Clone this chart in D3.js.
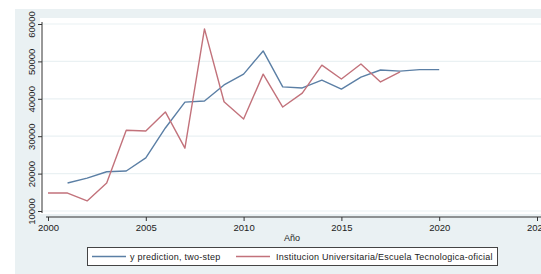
<!DOCTYPE html>
<html>
<head>
<meta charset="utf-8">
<script src="https://cdn.jsdelivr.net/npm/d3@7"></script>
<style>
  body { margin: 0; background: #fff; }
  text { font-family: Arial, "Liberation Sans", sans-serif; fill: #222; }
</style>
</head>
<body>
<div class="chart"></div>
<script>
var predYears = [2001, 2002, 2003, 2004, 2005, 2006, 2007, 2008, 2009, 2010,
                 2011, 2012, 2013, 2014, 2015, 2016, 2017, 2018, 2019, 2020];
var predValues = [17500, 18800, 20500, 20700, 24200, 32200, 39100, 39400, 43700, 46600,
                  52800, 43200, 42900, 45000, 42600, 45800, 47700, 47400, 47800, 47800];

var instYears = [2000, 2001, 2002, 2003, 2004, 2005, 2006, 2007, 2008, 2009,
                 2010, 2011, 2012, 2013, 2014, 2015, 2016, 2017, 2018];
var instValues = [14800, 14800, 12700, 17500, 31600, 31400, 36500, 26800, 58700, 39200,
                  34600, 46600, 37800, 41500, 49000, 45300, 49300, 44500, 47200];

var xTicks = [2000, 2005, 2010, 2015, 2020, 2025];
var yTicks = [10000, 20000, 30000, 40000, 50000, 60000];
var seriesNames = ["y prediction, two-step", "Institucion Universitaria/Escuela Tecnologica-oficial"];
var seriesColors = ["#5b7fa5", "#c2727b"];

var width = 541, height = 274;

var svg = d3.select(".chart").append("svg")
  .attr("width", width)
  .attr("height", height);

// outer graph region
svg.append("rect")
  .attr("x", 15).attr("y", 9)
  .attr("width", width - 15).attr("height", height - 9)
  .attr("fill", "#eaf1f3");

// plot region
svg.append("rect")
  .attr("x", 40).attr("y", 18)
  .attr("width", width - 40).attr("height", 196)
  .attr("fill", "#fff");

var x = d3.scaleLinear().domain([2000, 2025]).range([48, 537]);
var y = d3.scaleLinear().domain([10000, 60000]).range([211, 24]);

// gridlines
svg.append("g")
  .selectAll("line")
  .data(yTicks)
  .enter().append("line")
  .attr("x1", 42).attr("x2", width)
  .attr("y1", d => y(d)).attr("y2", d => y(d))
  .attr("stroke", "#eaf1f3")
  .attr("stroke-width", 1.2);

// y axis
var yAxis = svg.append("g")
  .attr("transform", "translate(42,0)")
  .call(d3.axisLeft(y).tickValues(yTicks).tickSize(4).tickPadding(3).tickFormat(d3.format("d")));
yAxis.select(".domain").attr("stroke", "#333").attr("d", "M0," + (y(10000) + 2) + "V" + (y(60000) - 2));
yAxis.selectAll(".tick line").attr("stroke", "#333");
yAxis.selectAll(".tick text")
  .attr("font-size", "9.5px")
  .attr("transform", "rotate(-90)")
  .attr("x", 0)
  .attr("y", -7)
  .attr("dy", 0)
  .attr("text-anchor", "middle");

// x axis
var xAxis = svg.append("g")
  .attr("transform", "translate(0,217)")
  .call(d3.axisBottom(x).tickValues(xTicks).tickSize(4).tickPadding(3).tickFormat(d3.format("d")));
xAxis.select(".domain").attr("stroke", "#333").attr("d", "M" + (x(2000) - 2) + ",0H" + width);
xAxis.selectAll(".tick line").attr("stroke", "#333");
xAxis.selectAll(".tick text").attr("font-size", "9.5px");

svg.append("text")
  .attr("x", 292).attr("y", 241)
  .attr("text-anchor", "middle")
  .attr("font-size", "9px")
  .text("Año");

// lines
var line = d3.line()
  .x(d => x(d[0]))
  .y(d => y(d[1]));

var series = [d3.zip(predYears, predValues), d3.zip(instYears, instValues)];

svg.append("g")
  .selectAll("path")
  .data(series)
  .enter().append("path")
  .attr("d", line)
  .attr("fill", "none")
  .attr("stroke", (d, i) => seriesColors[i])
  .attr("stroke-width", 1.4)
  .attr("stroke-linejoin", "round");

// legend
var legend = svg.append("g");
legend.append("rect")
  .attr("x", 87.5).attr("y", 247.5)
  .attr("width", 410).attr("height", 18)
  .attr("fill", "#fff")
  .attr("stroke", "#444")
  .attr("stroke-width", 1);

var legendItems = [{lx: 92, tx: 130}, {lx: 236, tx: 276}];
legendItems.forEach(function(it, i) {
  legend.append("line")
    .attr("x1", it.lx).attr("x2", it.lx + 34)
    .attr("y1", 256.5).attr("y2", 256.5)
    .attr("stroke", seriesColors[i])
    .attr("stroke-width", 1.4);
  legend.append("text")
    .attr("x", it.tx).attr("y", 260)
    .attr("font-size", "9px")
    .attr("letter-spacing", "0.25px")
    .text(seriesNames[i]);
});
</script>
</body>
</html>
